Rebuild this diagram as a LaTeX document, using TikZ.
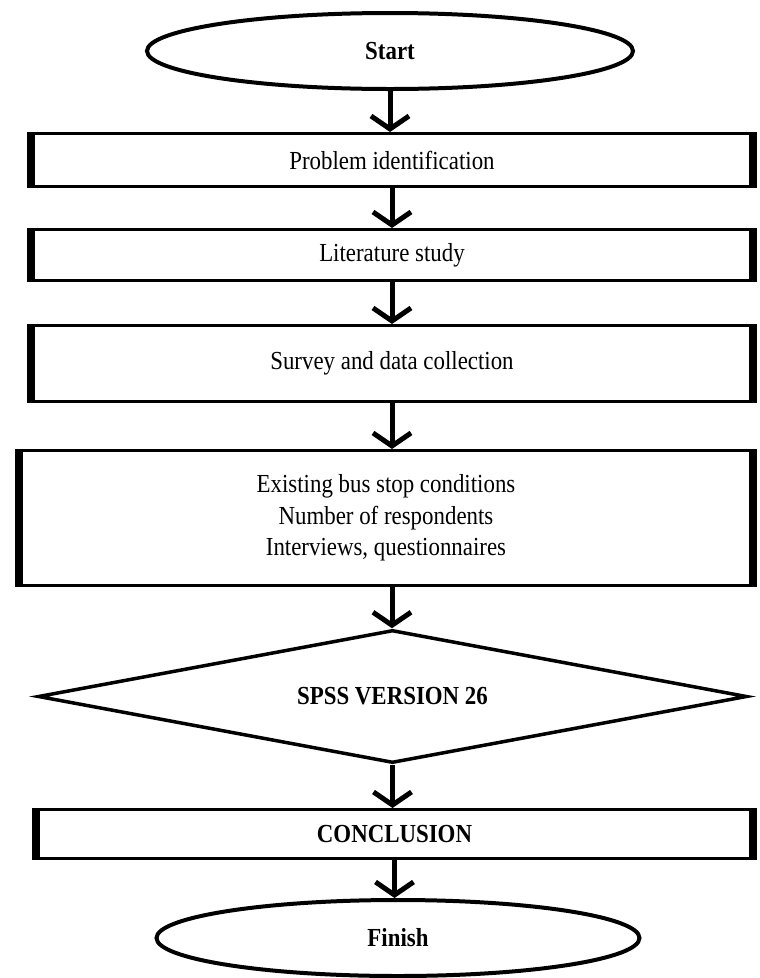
\documentclass[tikz,border=0pt]{standalone}
\usepackage{fontspec}
\setmainfont{Liberation Serif}[FakeStretch=0.88]
\usetikzlibrary{shapes.geometric,arrows.meta}
\begin{document}
\begin{tikzpicture}[x=1pt,y=-1pt,
  every node/.style={font=\fontsize{26}{31.5}\selectfont, align=center, inner sep=0pt},
  term/.style={ellipse, draw, line width=4pt, font=\fontsize{26}{31.5}\selectfont\bfseries},
  procbox/.style={rectangle, draw, line width=3pt},
  dec/.style={diamond, draw, line width=3.5pt, font=\fontsize{26}{31.5}\selectfont\bfseries},
  sidebar/.style={line width=8pt, line cap=butt},
  arr/.style={line width=5pt, -{Straight Barb[length=13pt,width=38pt]}}
]
\useasboundingbox (0,0) rectangle (760,978);

\node[term, minimum width=486pt, minimum height=76pt] (start) at (390,51) {Start};
\node[procbox, minimum width=727pt, minimum height=53pt] (p1) at (392,160) {Problem identification};
\node[procbox, minimum width=727pt, minimum height=51pt] (p2) at (392,255) {Literature study};
\node[procbox, minimum width=727pt, minimum height=76pt] (p3) at (392,363.5) {Survey and data collection};
\node[procbox, minimum width=739pt, minimum height=135pt] (p4) at (386,518) {Existing bus stop conditions\\Number of respondents\\Interviews, questionnaires};
\node[dec, minimum width=709pt, minimum height=133pt, aspect=5.33] (spss) at (392.5,696.5) {SPSS VERSION 26};
\node[procbox, minimum width=722pt, minimum height=49pt, font=\fontsize{26}{31.5}\selectfont\bfseries] (concl) at (394.5,834) {CONCLUSION};
\node[term, minimum width=483pt, minimum height=76pt] (finish) at (398,938) {Finish};

\foreach \n in {p1,p2,p3,p4,concl}{
  \draw[sidebar] ([xshift=4pt]\n.north west) -- ([xshift=4pt]\n.south west);
  \draw[sidebar] ([xshift=-4pt]\n.north east) -- ([xshift=-4pt]\n.south east);
}

\draw[arr] (start.south) -- (start.south |- p1.north);
\draw[arr] (p1.south) -- (p1.south |- p2.north);
\draw[arr] (p2.south) -- (p2.south |- p3.north);
\draw[arr] (p3.south) -- (p3.south |- p4.north);
\draw[arr] (p3.south |- p4.south) -- (p3.south |- spss.north);
\draw[arr] (spss.south) -- (spss.south |- concl.north);
\draw[arr] (concl.south) -- (concl.south |- finish.north);
\end{tikzpicture}
\end{document}
